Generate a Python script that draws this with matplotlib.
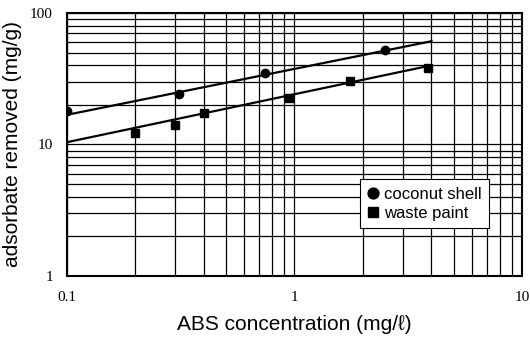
import matplotlib
matplotlib.use("Agg")
import numpy as np
from matplotlib import pyplot as plt
from matplotlib.ticker import LogLocator, FixedLocator, FixedFormatter, NullFormatter

# measured points
coconut_x = [0.1, 0.31, 0.74, 2.5]
coconut_y = [18, 24, 35, 52]
waste_x = [0.2, 0.3, 0.4, 0.95, 1.75, 3.85]
waste_y = [12.2, 14.1, 17.4, 22.6, 30.4, 38.5]

# fitted lines
coconut_fit_x = [0.1, 4.0]
coconut_fit_y = [16.8, 61]
waste_fit_x = [0.1, 4.0]
waste_fit_y = [10.4, 40]

x_ticks = [0.1, 1, 10]
x_labels = ["0.1", "1", "10"]
y_ticks = [1, 10, 100]
y_labels = ["1", "10", "100"]

fig = plt.figure(figsize=(5.3, 3.42), dpi=100)
ax = fig.add_axes([0.126, 0.193, 0.859, 0.769])

ax.set_xscale("log")
ax.set_yscale("log")
ax.set_xlim(0.1, 10)
ax.set_ylim(1, 100)

ax.plot(coconut_fit_x, coconut_fit_y, color="black", lw=1.6, zorder=3)
ax.plot(waste_fit_x, waste_fit_y, color="black", lw=1.6, zorder=3)
ax.plot(coconut_x, coconut_y, "o", color="black", ms=6, zorder=4, label="coconut shell")
ax.plot(waste_x, waste_y, "s", color="black", ms=5.5, zorder=4, label="waste paint")

ax.xaxis.set_major_locator(FixedLocator(x_ticks))
ax.xaxis.set_major_formatter(FixedFormatter(x_labels))
ax.yaxis.set_major_locator(FixedLocator(y_ticks))
ax.yaxis.set_major_formatter(FixedFormatter(y_labels))
ax.xaxis.set_minor_locator(LogLocator(base=10, subs=np.arange(2, 10)))
ax.yaxis.set_minor_locator(LogLocator(base=10, subs=np.arange(2, 10)))
ax.xaxis.set_minor_formatter(NullFormatter())
ax.yaxis.set_minor_formatter(NullFormatter())

ax.grid(which="both", color="black", lw=0.9)
ax.tick_params(which="both", length=0)
ax.tick_params(axis="x", pad=11)
ax.tick_params(axis="y", pad=10)
for lab in ax.get_xticklabels() + ax.get_yticklabels():
    lab.set_family("Liberation Serif")
    lab.set_fontsize(11)
for s in ax.spines.values():
    s.set_linewidth(1.5)

fam = ["Liberation Sans", "DejaVu Sans"]
ax.set_xlabel("ABS concentration (mg/ℓ)", family=fam, fontsize=15, labelpad=8)
ax.set_ylabel("adsorbate removed (mg/g)", family=fam, fontsize=15, labelpad=6)

leg = ax.legend(loc="upper left", bbox_to_anchor=(0.644, 0.368), frameon=True,
                fancybox=False, edgecolor="black", framealpha=1,
                prop={"family": "Liberation Sans", "size": 12},
                handlelength=0.7, handletextpad=0.3, borderpad=0.45,
                labelspacing=0.25, markerscale=1.3, borderaxespad=0)
leg.get_frame().set_linewidth(0.8)

plt.savefig("out.png", dpi=100)
